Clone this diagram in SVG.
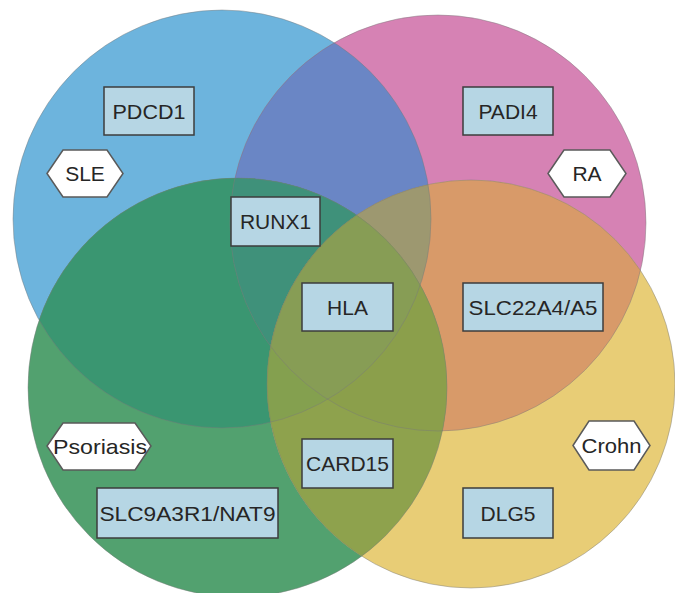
<svg xmlns="http://www.w3.org/2000/svg" width="675" height="593" viewBox="0 0 675 593">
<style>
.box{fill:#b6d6e4;stroke:#3d3d3d;stroke-width:1.5}
.hex{fill:#ffffff;stroke:#5a5a5a;stroke-width:1.5}
.lbl{font-family:"Liberation Sans",Arial,sans-serif;font-size:21px;fill:#262626;text-anchor:middle}
.edge{fill:none;stroke:#7a7a7a;stroke-opacity:0.45;stroke-width:1}
</style>
<defs>
<circle id="cirB" cx="222" cy="219" r="209"/>
<circle id="cirP" cx="438" cy="223" r="208"/>
<circle id="cirG" cx="237.5" cy="387.5" r="209.5"/>
<circle id="cirY" cx="471" cy="384" r="204"/>
<clipPath id="cB"><use href="#cirB"/></clipPath>
<clipPath id="cP"><use href="#cirP"/></clipPath>
<clipPath id="cG"><use href="#cirG"/></clipPath>
<clipPath id="cY"><use href="#cirY"/></clipPath>
</defs>
<rect width="675" height="593" fill="#ffffff"/>
<g id="venn">
<use href="#cirB" fill="#6db4dd"/>
<use href="#cirP" fill="#d682b4"/>
<use href="#cirG" fill="#52a16f"/>
<use href="#cirY" fill="#e8cd76"/>
<g clip-path="url(#cB)"><use href="#cirP" fill="#6a86c5"/></g>
<g clip-path="url(#cB)"><use href="#cirG" fill="#3a9671"/></g>
<g clip-path="url(#cB)"><use href="#cirY" fill="#7d9f5a"/></g>
<g clip-path="url(#cP)"><use href="#cirG" fill="#5a9070"/></g>
<g clip-path="url(#cP)"><use href="#cirY" fill="#d89a69"/></g>
<g clip-path="url(#cG)"><use href="#cirY" fill="#8ea24d"/></g>
<g clip-path="url(#cB)"><g clip-path="url(#cP)"><use href="#cirG" fill="#3f917a"/></g></g>
<g clip-path="url(#cB)"><g clip-path="url(#cP)"><use href="#cirY" fill="#9d9870"/></g></g>
<g clip-path="url(#cB)"><g clip-path="url(#cG)"><use href="#cirY" fill="#84a04f"/></g></g>
<g clip-path="url(#cP)"><g clip-path="url(#cG)"><use href="#cirY" fill="#8b9f4b"/></g></g>
<g clip-path="url(#cB)"><g clip-path="url(#cP)"><g clip-path="url(#cG)"><use href="#cirY" fill="#879d55"/></g></g></g>
<use href="#cirB" class="edge"/>
<use href="#cirP" class="edge"/>
<use href="#cirG" class="edge"/>
<use href="#cirY" class="edge"/>
</g>
<g id="SLE">
<polygon class="hex" points="47,173.5 63,150 107,150 123,173.5 107,197 63,197"/>
<text class="lbl" x="85" y="181">SLE</text>
</g>
<g id="RA">
<polygon class="hex" points="548,173.5 564,150 610,150 626,173.5 610,197 564,197"/>
<text class="lbl" x="587" y="181">RA</text>
</g>
<g id="Psoriasis">
<polygon class="hex" points="47,446 63,423 135,423 151,446 135,470 63,470"/>
<text class="lbl" x="100" y="454" textLength="94" lengthAdjust="spacingAndGlyphs">Psoriasis</text>
</g>
<g id="Crohn">
<polygon class="hex" points="573,445.5 589,421 634,421 650,445.5 634,470 589,470"/>
<text class="lbl" x="611.5" y="453" textLength="60" lengthAdjust="spacingAndGlyphs">Crohn</text>
</g>
<g id="PDCD1">
<rect class="box" x="104" y="87" width="90" height="48"/>
<text class="lbl" x="149" y="118.5" textLength="73" lengthAdjust="spacingAndGlyphs">PDCD1</text>
</g>
<g id="PADI4">
<rect class="box" x="463" y="87" width="90" height="48"/>
<text class="lbl" x="508" y="118.5">PADI4</text>
</g>
<g id="RUNX1">
<rect class="box" x="231" y="197" width="89" height="49"/>
<text class="lbl" x="275.5" y="229">RUNX1</text>
</g>
<g id="HLA">
<rect class="box" x="302" y="283" width="91" height="48"/>
<text class="lbl" x="347.5" y="314.5">HLA</text>
</g>
<g id="SLC22A4_A5">
<rect class="box" x="463" y="283" width="140" height="48"/>
<text class="lbl" x="533" y="314.5" textLength="129" lengthAdjust="spacingAndGlyphs">SLC22A4/A5</text>
</g>
<g id="CARD15">
<rect class="box" x="302" y="439" width="91" height="49"/>
<text class="lbl" x="347.5" y="471">CARD15</text>
</g>
<g id="SLC9A3R1_NAT9">
<rect class="box" x="97" y="488" width="181" height="50"/>
<text class="lbl" x="187.5" y="520.5" textLength="176" lengthAdjust="spacingAndGlyphs">SLC9A3R1/NAT9</text>
</g>
<g id="DLG5">
<rect class="box" x="463" y="488" width="90" height="50"/>
<text class="lbl" x="508" y="520.5">DLG5</text>
</g>
</svg>
